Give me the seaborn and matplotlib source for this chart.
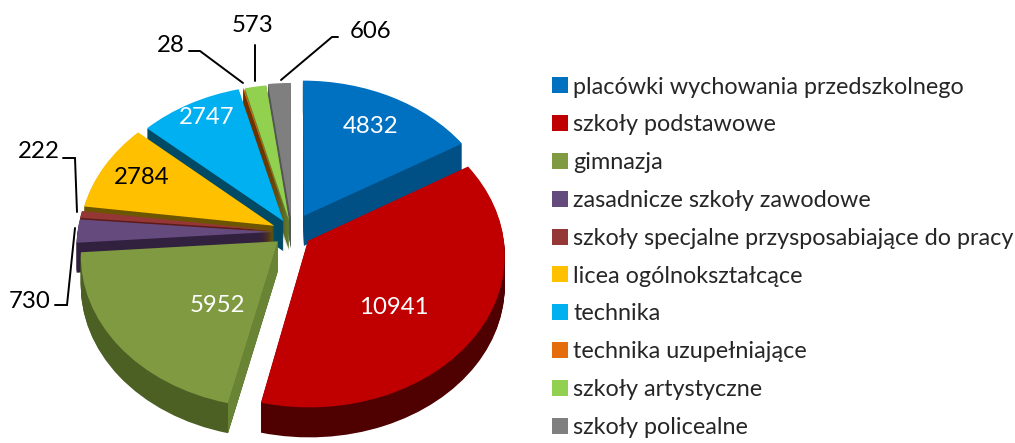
import numpy as np
import matplotlib
matplotlib.use("Agg")
import matplotlib.pyplot as plt
from matplotlib.patches import Polygon
from matplotlib.transforms import Transform, Affine2D
import seaborn as sns

categories = ["placówki wychowania przedszkolnego", "szkoły podstawowe", "gimnazja",
              "zasadnicze szkoły zawodowe", "szkoły specjalne przysposabiające do pracy",
              "licea ogólnokształcące", "technika", "technika uzupełniające",
              "szkoły artystyczne", "szkoły policealne"]
values = [4832, 10941, 5952, 730, 222, 2784, 2747, 28, 573, 606]

top_colors = ["#0070c0", "#c00000", "#7f9a40", "#654a7e", "#953735",
              "#ffc000", "#00b0f0", "#e46c0a", "#92d050", "#7f7f7f"]
side_colors = ["#004f85", "#4f0000", "#4c6024", "#32203f", "#5c1a1a",
               "#6b5500", "#004a66", "#6b3300", "#5f8030", "#555555"]
explode = [0.125, 0.10, 0.095, 0.10, 0.10, 0.10, 0.085, 0.08, 0.08, 0.09]
# painter's order, back to front
order = [9, 8, 7, 6, 5, 4, 3, 0, 2, 1]

# label positions (px), colour
inner = {0: (371, 126, "white"), 1: (394, 308, "white"), 2: (218, 306, "white"),
         5: (142, 177, "black"), 6: (207, 117, "white")}
outer = {7: (171, 45), 8: (253, 25), 9: (371, 31), 4: (39, 151), 3: (30, 301)}
leaders = [([189, 200, 243], [51, 51, 83]), ([255, 255], [45, 81]),
           ([338, 332, 281], [37, 37, 80]), ([63, 75, 77], [158, 158, 212]),
           ([55, 67, 75], [305, 305, 228])]

sns.set_theme(style="white")
plt.rcParams["font.family"] = ["Lato", "DejaVu Sans"]
FS = 17.3
LEGEND_FS = 16.8

CX, CY, RX, RY, K, DEPTH = 292, 232, 195, 150, 0.089, 30


class Persp(Transform):
    input_dims = output_dims = 2

    def transform_non_affine(self, xy):
        xy = np.asarray(xy, dtype=float)
        s = 1 / (1 + K * xy[:, 1])
        return np.column_stack([xy[:, 0] * s, xy[:, 1] * s])


fig = plt.figure(figsize=(10.15, 4.43), dpi=100)
ax = fig.add_axes([0, 0, 1, 1])
persp = Persp()


def draw_layer(colors, depth, z_off):
    wedges, _ = ax.pie(values, startangle=90, counterclock=False, explode=explode,
                       colors=colors, radius=1, frame=False,
                       wedgeprops=dict(linewidth=0))
    tr = persp + Affine2D().translate(0, -depth / RY) + ax.transData
    for i, w in enumerate(wedges):
        w.set_transform(tr)
        w.set_zorder(order.index(i) * 2 + z_off)
    return wedges


sns.set_palette(top_colors)
for d in range(DEPTH, 0, -1):
    draw_layer(side_colors, d, 1 - d / 1000)
top = draw_layer(top_colors, 0, 1.5)

# lighter radial wall of the "gimnazja" slice, derived from the slice angles
shares = np.cumsum(values) / np.sum(values) * 360
a0, a1 = np.radians(shares[1]), np.radians(shares[2])
mid = (a0 + a1) / 2
off = explode[2] * np.array([np.sin(mid), np.cos(mid)])
rim = off + np.array([np.sin(a0), np.cos(a0)])
p = persp.transform(np.array([off, rim]))
drop = DEPTH / RY
ax.add_patch(Polygon([p[0], p[1], p[1] - [0, drop], p[0] - [0, drop]], closed=True,
                     facecolor="#6a8436", linewidth=0,
                     zorder=order.index(2) * 2 + 1.2))

ax.set_aspect("auto")
ax.set_xlim((0 - CX) / RX, (1015 - CX) / RX)
ax.set_ylim((CY - 443) / RY, CY / RY)
ax.axis("off")

ov = fig.add_axes([0, 0, 1, 1], facecolor="none")
ov.set_xlim(0, 1015)
ov.set_ylim(443, 0)
ov.axis("off")
for xs, ys in leaders:
    ov.plot(xs, ys, color="black", lw=1.4, solid_joinstyle="miter")
for i, (x, y, c) in inner.items():
    ov.text(x, y, str(values[i]), color=c, fontsize=FS, ha="center", va="center")
for i, (x, y) in outer.items():
    ov.text(x, y, str(values[i]), color="black", fontsize=FS, ha="center", va="center")

ov.legend(top, categories, loc="upper left", bbox_to_anchor=(0.544, 0.827),
          bbox_transform=fig.transFigure, frameon=False, fontsize=LEGEND_FS,
          handlelength=0.68, handleheight=0.68, handletextpad=0.22,
          labelspacing=0.72, borderpad=0, borderaxespad=0)

fig.savefig("out.png", dpi=100)
